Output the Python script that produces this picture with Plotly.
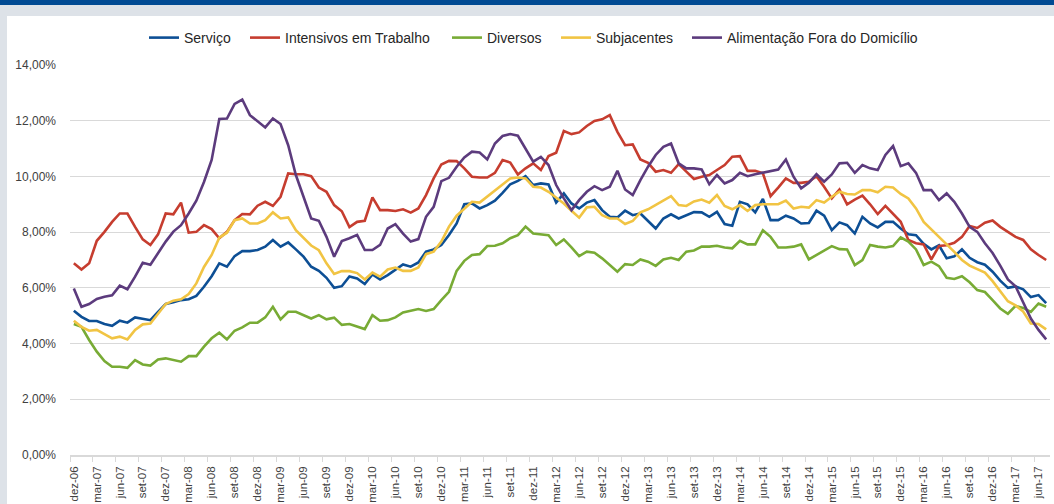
import plotly.graph_objects as go

# ---- data (monthly, dez-06 .. jul-17), values in % ----
month_names = ["jan", "fev", "mar", "abr", "mai", "jun", "jul", "ago", "set", "out", "nov", "dez"]
start_year, start_month = 2006, 12
n_months = 128

servico = [5.18, 4.96, 4.81, 4.81, 4.70, 4.64, 4.82, 4.75, 4.94, 4.89, 4.84, 5.14,
           5.42, 5.48, 5.56, 5.59, 5.71, 6.04, 6.42, 6.88, 6.76, 7.14, 7.32, 7.32,
           7.36, 7.48, 7.72, 7.48, 7.63, 7.38, 7.12, 6.76, 6.61, 6.36, 6.00, 6.06,
           6.41, 6.34, 6.14, 6.48, 6.30, 6.46, 6.64, 6.84, 6.76, 6.91, 7.30, 7.38,
           7.54, 7.90, 8.31, 9.00, 9.03, 8.85, 8.97, 9.13, 9.41, 9.72, 9.84, 10.01,
           9.69, 9.75, 9.71, 9.06, 9.39, 9.03, 8.85, 9.06, 9.15, 8.79, 8.55, 8.53,
           8.77, 8.61, 8.67, 8.41, 8.13, 8.49, 8.64, 8.49, 8.61, 8.72, 8.71, 8.55,
           8.73, 8.29, 8.23, 9.09, 9.00, 8.71, 9.19, 8.43, 8.43, 8.59, 8.49, 8.31,
           8.33, 8.77, 8.59, 8.07, 8.35, 8.25, 7.95, 8.55, 8.31, 8.17, 8.37, 8.37,
           8.13, 7.92, 7.89, 7.58, 7.38, 7.53, 7.06, 7.13, 7.38, 7.08, 6.92, 6.83,
           6.58, 6.26, 6.00, 6.05, 5.95, 5.67, 5.74, 5.45]

intensivos = [6.88, 6.66, 6.88, 7.69, 8.01, 8.37, 8.67, 8.67, 8.19, 7.74, 7.54, 7.92,
              8.67, 8.64, 9.06, 7.98, 8.01, 8.25, 8.11, 7.78, 8.01, 8.43, 8.65, 8.64,
              8.95, 9.09, 8.94, 9.27, 10.11, 10.08, 10.08, 10.01, 9.60, 9.45, 8.97, 8.75,
              8.18, 8.37, 8.41, 9.25, 8.79, 8.79, 8.76, 8.82, 8.70, 8.85, 9.33, 9.93,
              10.43, 10.56, 10.55, 10.29, 9.99, 9.96, 9.96, 10.13, 10.59, 10.50, 10.07, 10.29,
              10.47, 10.23, 10.73, 10.85, 11.63, 11.52, 11.58, 11.81, 11.99, 12.05, 12.20, 11.60,
              11.12, 11.15, 10.61, 10.49, 10.17, 10.23, 10.13, 10.44, 10.17, 9.91, 9.99, 10.05,
              10.23, 10.41, 10.71, 10.73, 10.20, 10.20, 10.11, 9.29, 9.60, 9.93, 9.77, 9.77,
              9.81, 10.01, 9.63, 9.21, 9.53, 9.00, 9.17, 9.31, 9.00, 8.65, 8.94, 8.67,
              8.37, 7.72, 7.60, 7.56, 7.02, 7.50, 7.53, 7.62, 7.83, 8.22, 8.15, 8.34,
              8.42, 8.19, 8.01, 7.83, 7.72, 7.38, 7.18, 7.00]

diversos = [4.70, 4.60, 4.13, 3.71, 3.37, 3.17, 3.17, 3.13, 3.41, 3.25, 3.21, 3.43,
            3.47, 3.41, 3.35, 3.55, 3.55, 3.89, 4.19, 4.39, 4.15, 4.46, 4.58, 4.75,
            4.75, 4.94, 5.32, 4.87, 5.14, 5.14, 5.02, 4.90, 5.02, 4.87, 4.93, 4.67,
            4.70, 4.60, 4.52, 5.02, 4.82, 4.84, 4.94, 5.12, 5.17, 5.24, 5.17, 5.24,
            5.56, 5.86, 6.61, 6.97, 7.18, 7.21, 7.50, 7.51, 7.60, 7.78, 7.89, 8.20,
            7.95, 7.93, 7.89, 7.54, 7.74, 7.45, 7.14, 7.30, 7.26, 7.06, 6.82, 6.58,
            6.85, 6.82, 7.02, 6.94, 6.79, 7.02, 7.08, 7.00, 7.30, 7.34, 7.48, 7.48,
            7.51, 7.45, 7.42, 7.69, 7.56, 7.56, 8.07, 7.83, 7.45, 7.45, 7.48, 7.56,
            7.02, 7.18, 7.33, 7.50, 7.39, 7.38, 6.82, 7.00, 7.54, 7.48, 7.45, 7.50,
            7.81, 7.66, 7.38, 6.82, 6.94, 6.78, 6.36, 6.32, 6.42, 6.20, 5.92, 5.85,
            5.56, 5.26, 5.07, 5.35, 5.28, 5.14, 5.44, 5.32]

subjacentes = [4.82, 4.60, 4.46, 4.49, 4.34, 4.19, 4.25, 4.15, 4.49, 4.69, 4.72, 5.05,
               5.42, 5.54, 5.59, 5.78, 6.16, 6.75, 7.18, 7.80, 7.98, 8.43, 8.49, 8.31,
               8.31, 8.43, 8.71, 8.49, 8.53, 8.07, 7.80, 7.52, 7.35, 6.88, 6.50, 6.60,
               6.60, 6.53, 6.30, 6.55, 6.40, 6.66, 6.73, 6.61, 6.61, 6.73, 7.21, 7.30,
               7.66, 8.20, 8.59, 8.85, 9.09, 9.06, 9.27, 9.51, 9.69, 9.93, 9.96, 9.93,
               9.63, 9.60, 9.45, 9.23, 9.03, 8.77, 8.52, 8.89, 8.91, 8.61, 8.49, 8.49,
               8.29, 8.40, 8.71, 8.82, 8.97, 9.15, 9.29, 8.97, 8.94, 9.10, 9.17, 9.06,
               9.33, 8.94, 8.82, 8.97, 8.76, 8.97, 9.00, 9.00, 9.00, 9.13, 8.85, 8.91,
               8.88, 9.15, 9.06, 9.27, 9.45, 9.37, 9.35, 9.51, 9.51, 9.43, 9.63, 9.60,
               9.37, 9.21, 8.85, 8.37, 8.11, 7.83, 7.56, 7.29, 7.00, 6.80, 6.66, 6.55,
               6.24, 5.86, 5.52, 5.37, 5.15, 4.72, 4.70, 4.51]

alimentacao = [5.98, 5.32, 5.42, 5.60, 5.68, 5.73, 6.08, 5.95, 6.40, 6.90, 6.83, 7.24,
               7.66, 8.02, 8.25, 8.67, 9.13, 9.80, 10.59, 12.06, 12.08, 12.60, 12.76, 12.20,
               11.99, 11.76, 12.08, 11.88, 11.12, 10.05, 9.27, 8.49, 8.41, 7.83, 7.12, 7.68,
               7.78, 7.90, 7.36, 7.36, 7.54, 8.13, 8.29, 7.95, 7.66, 7.75, 8.55, 8.91,
               9.83, 9.95, 10.35, 10.68, 10.89, 10.86, 10.61, 11.18, 11.45, 11.52, 11.46, 10.98,
               10.53, 10.70, 10.41, 9.69, 9.21, 8.79, 9.15, 9.45, 9.65, 9.51, 9.63, 10.20,
               9.53, 9.33, 9.87, 10.35, 10.77, 11.06, 11.18, 10.47, 10.29, 10.29, 10.25, 9.72,
               10.05, 9.75, 9.87, 10.13, 10.01, 10.08, 10.13, 10.20, 10.25, 10.61, 9.99, 9.57,
               9.77, 10.08, 9.81, 10.07, 10.47, 10.49, 10.13, 10.41, 10.29, 10.23, 10.77, 11.09,
               10.37, 10.47, 10.13, 9.51, 9.51, 9.15, 9.39, 9.09, 8.67, 8.19, 8.01, 7.60,
               7.25, 6.80, 6.30, 6.06, 5.50, 4.90, 4.49, 4.15]

series_names = ["Serviço", "Intensivos em Trabalho", "Diversos", "Subjacentes",
                "Alimentação Fora do Domicílio"]
series_values = [servico, intensivos, diversos, subjacentes, alimentacao]
series_colors = ["#0D4F95", "#C63D2F", "#78AB35", "#F1C443", "#5C3B7D"]

y_ticks = [0, 2, 4, 6, 8, 10, 12, 14]
y_ticktext = [f"{v:.2f}%".replace(".", ",") for v in y_ticks]

# month labels
month_labels = []
for k in range(n_months):
    m = (start_month - 1 + k) % 12
    y = start_year + (start_month - 1 + k) // 12
    month_labels.append(f"{month_names[m]}-{y % 100:02d}")
x_idx = list(range(n_months))
x_tickvals = list(range(0, n_months, 3))
x_ticktext = [month_labels[i] for i in x_tickvals]

# plot area: x 70..1050, y 65..455 on a 1054x504 page
L, R, T, B = 70, 1050, 65, 455
W, H = 1054, 504
def px(xp):
    return (xp - L) / (R - L)
def py(yp):
    return (B - yp) / (B - T)

# legend entry text start positions (page pixels)
legend_text_x = [184, 285, 487, 596, 727]
legend_keys = ["legend", "legend2", "legend3", "legend4", "legend5"]

fig = go.Figure()
for name, vals, col, lk in zip(series_names, series_values, series_colors, legend_keys):
    fig.add_trace(go.Scatter(x=x_idx[:len(vals)], y=vals, mode="lines", name=name,
                             line=dict(color=col, width=2.6), legend=lk))

shapes = [
    dict(type="rect", xref="paper", yref="paper", x0=px(0), x1=px(W), y0=py(16), y1=py(0),
         fillcolor="#DDE2E8", line=dict(width=0), layer="below"),
    dict(type="rect", xref="paper", yref="paper", x0=px(0), x1=px(W), y0=py(5), y1=py(0),
         fillcolor="#004A93", line=dict(width=0), layer="below"),
    dict(type="rect", xref="paper", yref="paper", x0=px(0), x1=px(7), y0=py(H), y1=py(5),
         fillcolor="#DDE2E8", line=dict(width=0), layer="below"),
]

layout_legends = {}
for lk, tx in zip(legend_keys, legend_text_x):
    layout_legends[lk] = dict(orientation="h", x=px(tx - 40), xanchor="left",
                              y=py(38), yanchor="middle",
                              font=dict(size=14, color="#262626"),
                              bgcolor="rgba(0,0,0,0)", borderwidth=0)

fig.update_layout(
    width=W, height=H,
    margin=dict(l=L, r=W - R, t=T, b=H - B, pad=0, autoexpand=False),
    paper_bgcolor="white", plot_bgcolor="white",
    font=dict(family="Liberation Sans, Arial, sans-serif", size=12, color="#404040"),
    showlegend=True,
    shapes=shapes,
    **layout_legends,
)
fig.update_xaxes(
    range=[-0.5, n_months - 0.5], tickmode="array", tickvals=x_tickvals, ticktext=x_ticktext,
    tickangle=-90, ticks="", showgrid=False, zeroline=False, automargin=False,
    showline=True, linecolor="#D9D9D9", linewidth=1.5,
    ticklabelstandoff=5, tickfont=dict(size=11.5, color="#404040"),
    minor=dict(tickmode="array", tickvals=[v - 0.5 for v in x_tickvals], ticks="outside",
               ticklen=5, tickcolor="#D9D9D9", tickwidth=1, showgrid=False),
)
fig.update_yaxes(
    range=[0, 14], tickmode="array", tickvals=y_ticks, ticktext=y_ticktext,
    showgrid=True, gridcolor="#D9D9D9", gridwidth=1.3, zeroline=False, showline=False,
    automargin=False,
    ticks="", ticklabelstandoff=13, tickfont=dict(size=12, color="#404040"),
)

fig.write_html(
    "out.html",
    config={"displayModeBar": False},
    post_script="document.body.style.margin='0';document.body.style.padding='0';"
                "document.documentElement.style.overflow='hidden';",
)
